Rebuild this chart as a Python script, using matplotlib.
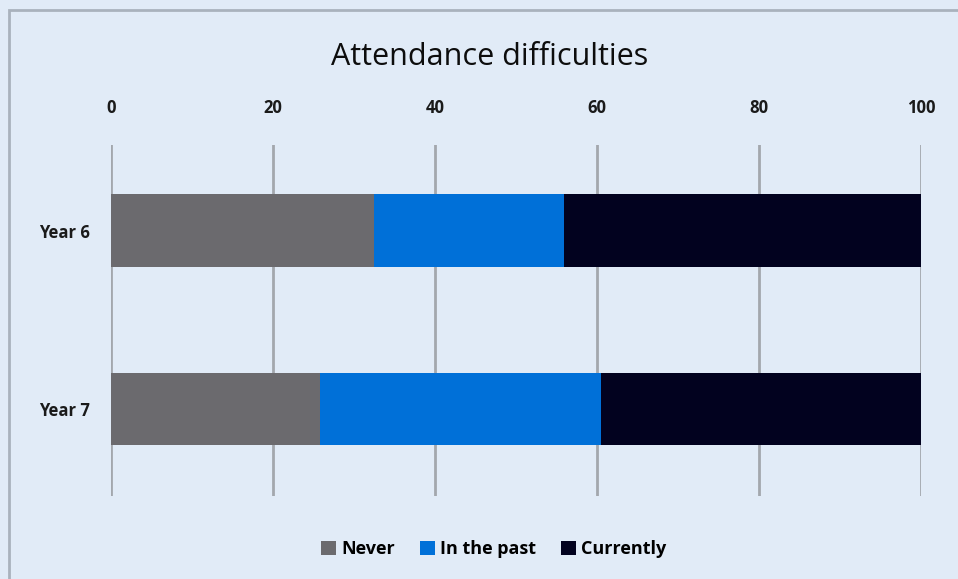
import matplotlib.pyplot as plt
from matplotlib.patches import Rectangle
import numpy as np

plt.rcParams['font.family'] = ['Open Sans', 'DejaVu Sans']

# data
years = ["Year 6", "Year 7"]
never = [32.5, 25.8]
in_past = [23.4, 34.7]
currently = [44.1, 39.5]
ticks = [0, 20, 40, 60, 80, 100]

bg = "#e1ebf7"
colors = {"Never": "#6b6a6e", "In the past": "#0070d8", "Currently": "#02021f"}

fig = plt.figure(figsize=(9.58, 5.79), dpi=100, facecolor=bg)
# outer chart frame (top and left edges visible)
fig.patches.append(Rectangle((9 / 958, -0.1), 1.2, 1 - 10 / 579 + 0.1,
                             transform=fig.transFigure, fill=False,
                             edgecolor="#a9b2bd", linewidth=2))

ax = fig.add_axes([111 / 958, 1 - 496 / 579, 810 / 958, 351 / 579])
ax.set_facecolor(bg)

y = np.arange(len(years))
h = 0.405
left = np.zeros(len(years))
for name, vals in [("Never", never), ("In the past", in_past), ("Currently", currently)]:
    ax.barh(y, vals, left=left, height=h, color=colors[name], label=name, zorder=3)
    left = left + np.array(vals)

ax.set_xlim(0, 100)
ax.set_ylim(1.49, -0.48)
ax.set_xticks(ticks)
ax.set_yticks(y)
ax.set_yticklabels(years)
ax.xaxis.tick_top()
ax.tick_params(axis="x", length=0, pad=20, labelsize=12)
ax.tick_params(axis="y", length=0, pad=15, labelsize=12)
for lab in ax.get_xticklabels() + ax.get_yticklabels():
    lab.set_fontweight("bold")
    lab.set_color("#1a1a1a")
ax.grid(axis="x", color="#a3a7ad", linewidth=2, zorder=0)
for s in ax.spines.values():
    s.set_visible(False)

fig.text(490 / 958, 1 - 57 / 579, "Attendance difficulties", ha="center", va="center",
         fontsize=22, color="#0d0d0d", fontweight="medium")

fig.legend(loc="center", bbox_to_anchor=(494 / 958, 1 - 549 / 579), ncol=3,
           frameon=False, handlelength=0.8, handleheight=0.8, handletextpad=0.3,
           columnspacing=1.4, prop={"size": 13, "weight": "bold"})

fig.savefig("out.png", dpi=100, facecolor=bg)
